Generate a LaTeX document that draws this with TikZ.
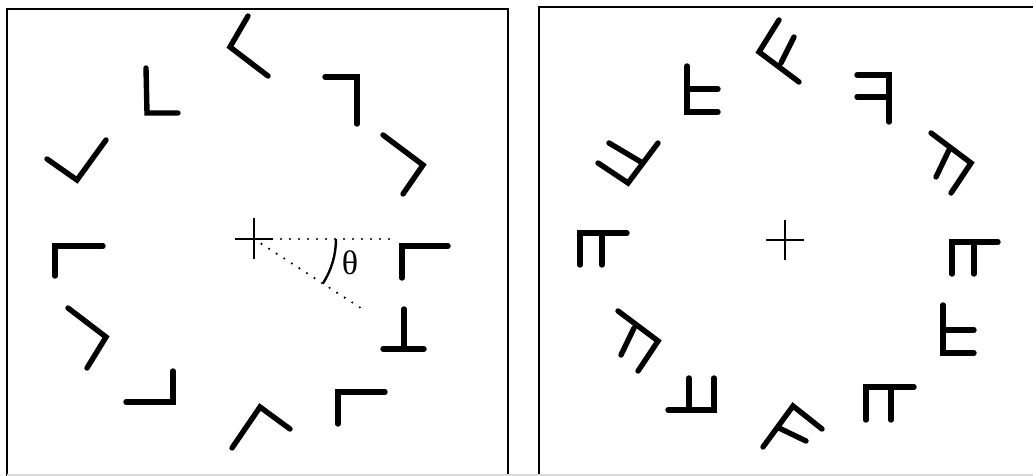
\documentclass[tikz,border=0pt]{standalone}
\usepackage{fontspec}
\usetikzlibrary{calc}
\newfontfamily\greekfont{Liberation Serif}

\begin{document}
\begin{tikzpicture}[x=0.5pt,y=-0.5pt,
    stroke/.style={line width=2.7pt,line cap=round,line join=miter},
    frame/.style={line width=1.2pt},
    hair/.style={line width=0.9pt},
    guide/.style={line width=1.2pt,line cap=round,dash pattern=on 0pt off 4.5pt}]
  \useasboundingbox (0,0) rectangle (1033,476);
  % panel frames
  \draw[frame] (7,476) -- (7,9) -- (508,9) -- (508,476);
  \draw[frame] (539,476) -- (539,7) -- (1033,7);
  \draw[frame,gray!30] (7,475) -- (1033,475);
  % left panel: plain corners
  \foreach \ax/\ay/\bx/\by/\cx/\cy in {248/16/230/47/268/76, 146/68/147/113/178/113,
      325/77/357/77/357/124, 383/135/423/165/403/194, 47/159/77/180/106/140,
      55/276/55/246/103/246, 448/246/402/246/402/278, 68/308/106/337/87/368,
      173/371/173/402/126/402, 232/448/260/407/290/429, 385/392/338/392/338/424}
    \draw[stroke] (\ax,\ay) -- (\bx,\by) -- (\cx,\cy);
  \draw[stroke] (404,309) -- (404,349) (383,349) -- (424,349);
  % left panel: centre and angle
  \coordinate (cl) at (254,239);
  \draw[hair] ($(cl)+(-19,0)$) -- ($(cl)+(19,0)$) ($(cl)+(0,-21)$) -- ($(cl)+(0,20)$);
  \coordinate (ref) at (392,239);
  \coordinate (rot) at (367,312);
  \draw[guide] (cl) -- (ref);
  \draw[guide] (cl) -- (rot);
  \draw[hair,line width=1.2pt] (cl) ++(0:82) arc[start angle=0,end angle=33,radius=82];
  \node[font=\greekfont\fontsize{17}{17}\selectfont,inner sep=0pt] (theta) at (350,263) {θ};
  % right panel: corners with an extra bar
  \foreach \ax/\ay/\bx/\by/\cx/\cy/\dx/\dy/\ex/\ey in {
      779/20/759/52/799/82/794/37/781/63, 687/66/687/112/718/112/687/89/718/89,
      857/75/889/75/889/122/857/97/889/97, 931/133/971/163/951/193/949/150/936/177,
      598/163/628/183/658/143/641/162/609/143, 580/265/580/233/627/233/602/233/602/265,
      952/274/952/242/998/242/974/242/974/274, 943/305/943/353/974/353/943/330/974/330,
      618/311/658/341/638/371/634/328/621/355, 668/410/714/410/714/378/689/378/689/410,
      763/447/793/406/822/429/779/428/806/441, 914/387/866/387/866/420/891/387/891/420}
    \draw[stroke] (\ax,\ay) -- (\bx,\by) -- (\cx,\cy) (\dx,\dy) -- (\ex,\ey);
  % right panel: centre
  \coordinate (cr) at (785,240);
  \draw[hair] ($(cr)+(-19,0)$) -- ($(cr)+(19,0)$) ($(cr)+(0,-20)$) -- ($(cr)+(0,20)$);
\end{tikzpicture}
\end{document}
